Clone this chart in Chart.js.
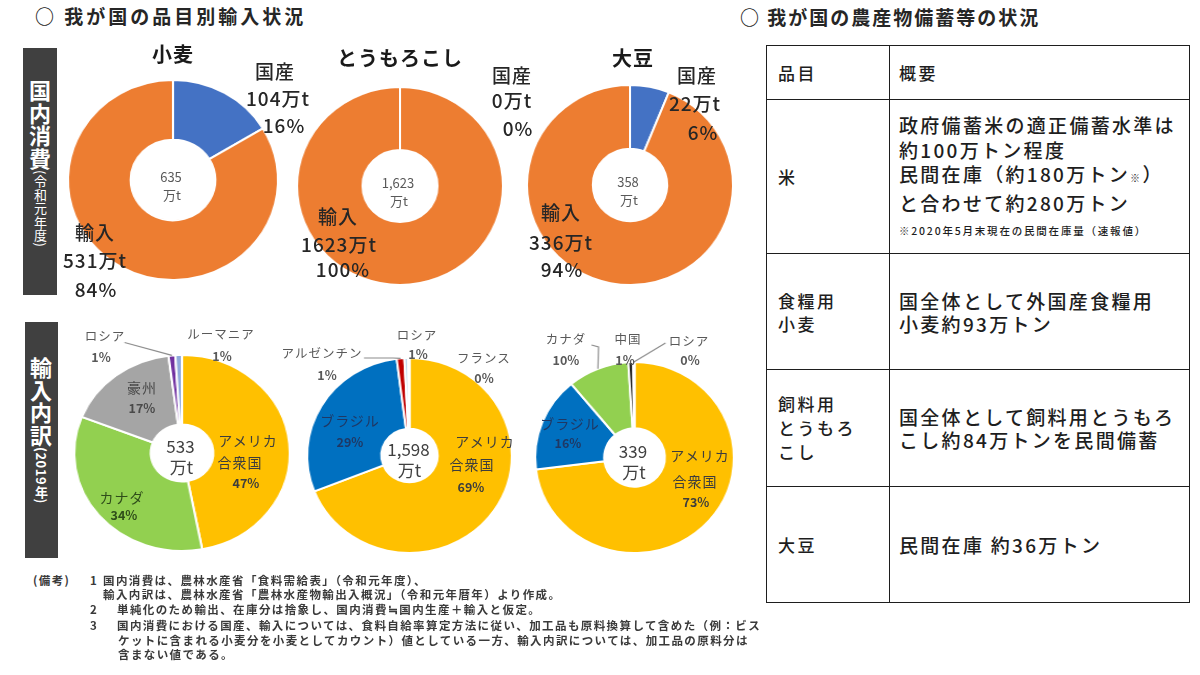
<!DOCTYPE html>
<html><head><meta charset="utf-8">
<script src="https://cdn.jsdelivr.net/npm/chart.js@4.4.0/dist/chart.umd.min.js"></script>
<style>
body{margin:0;background:#fff;}
#root{position:relative;width:1200px;height:675px;overflow:hidden;font-family:"Noto Sans CJK JP","Noto Sans",sans-serif;color:#262626;}
.t{position:absolute;white-space:nowrap;transform:translate(-50%,-50%);line-height:1;}
.l{position:absolute;white-space:nowrap;line-height:1;transform:translateY(-50%);}
canvas{position:absolute;}
.vbox{position:absolute;background:#404040;color:#fff;writing-mode:vertical-rl;box-sizing:border-box;}
#tbl{position:absolute;left:766px;top:45px;border-collapse:collapse;table-layout:fixed;width:423px;}
#tbl td{border:1.5px solid #1e1e1e;vertical-align:middle;padding:0;color:#1e1e1e;font-weight:500;}
#tbl td.c1{font-size:17px;letter-spacing:2.5px;padding-left:11px;line-height:23px;}
#tbl td.c2{font-size:19px;letter-spacing:2.3px;padding-left:9px;line-height:23px;}
.note{font-size:11.5px;font-weight:bold;color:#3a3a3a;letter-spacing:1.4px;}
</style></head><body><div id="root"></div>
<script>
// ---------- data ----------
const topCrops = ['小麦', 'とうもろこし', '大豆'];
const domestic = [104, 0, 22];          // 国産 (万t)
const imported = [531, 1623, 336];      // 輸入 (万t)
const wheatCountries = ['アメリカ\n合衆国', 'カナダ', '豪州', 'ロシア', 'ルーマニア'];
const wheatShares = [47, 34, 17, 1, 1];
const cornCountries = ['アメリカ\n合衆国', 'ブラジル', 'アルゼンチン', 'ロシア', 'フランス'];
const cornShares = [69, 29, 1.2, 0.6, 0.2];
const soyCountries = ['アメリカ\n合衆国', 'ブラジル', 'カナダ', '中国', 'ロシア'];
const soyShares = [73, 16, 10, 0.8, 0.2];
const importTotals = [533, 1598, 339]; // 万t

const root = document.getElementById('root');
function txt(s, x, y, style, cls) {
  const d = document.createElement('div');
  d.className = cls || 't';
  d.textContent = s;
  d.style.left = x + 'px'; d.style.top = y + 'px';
  if (style) d.style.cssText += style;
  root.appendChild(d);
  return d;
}

// leader line plugin
const leaderPlugin = {
  id: 'leaders',
  afterDatasetsDraw(chart, args, opts) {
    if (!opts || !opts.lines) return;
    const ctx = chart.ctx, meta = chart.getDatasetMeta(0);
    const g = opts.geom;
    const toC = (p) => [(p[0] - g.left - g.w / 2) / g.sx + g.w / 2, p[1] - g.top];
    ctx.save();
    ctx.strokeStyle = '#8c8c8c'; ctx.lineWidth = 1.2;
    opts.lines.forEach(L => {
      const a = meta.data[L.i];
      const p = a.getProps(['x', 'y', 'startAngle', 'endAngle', 'outerRadius'], true);
      const m = (p.startAngle + p.endAngle) / 2;
      ctx.beginPath();
      ctx.moveTo(p.x + Math.cos(m) * p.outerRadius, p.y + Math.sin(m) * p.outerRadius);
      L.pts.forEach(q => { const c = toC(q); ctx.lineTo(c[0], c[1]); });
      ctx.stroke();
    });
    ctx.restore();
  }
};

function donut(cx, cy, R, rIn, sx, values, colors, lines) {
  const c = document.createElement('canvas');
  const w = 2 * R + 40, h = 2 * R + 40;
  c.width = w; c.height = h;
  const left = cx - w / 2, top = cy - h / 2;
  c.style.left = left + 'px'; c.style.top = top + 'px';
  c.style.transform = 'scaleX(' + sx + ')';
  root.appendChild(c);
  new Chart(c, {
    type: 'doughnut',
    data: { labels: values.map((v, i) => i), datasets: [{ data: values, backgroundColor: colors, borderColor: '#ffffff', borderWidth: 2 }] },
    options: {
      responsive: false, animation: false, radius: R, cutout: rIn,
      layout: { padding: 0 },
      plugins: { legend: { display: false }, tooltip: { enabled: false },
        leaders: { lines: lines || [], geom: { left, top, w, sx } } }
    },
    plugins: [leaderPlugin]
  });
}

// ---------- headers ----------
txt('○ 我が国の品目別輸入状況', 35, 15, 'font-size:19px;font-weight:bold;letter-spacing:3px;color:#262626;', 'l');
txt('○ 我が国の農産物備蓄等の状況', 740, 16, 'font-size:19px;font-weight:bold;letter-spacing:2px;color:#262626;', 'l');

// vertical boxes
const vb1 = document.createElement('div');
vb1.className = 'vbox';
vb1.style.cssText += 'left:23px;top:48px;width:34px;height:247px;padding-top:32px;line-height:34px;';
vb1.innerHTML = '<span style="font-size:22px;font-weight:bold;letter-spacing:0.5px">国内消費</span><span style="font-size:13px;letter-spacing:0.5px">(令和元年度)</span>';
root.appendChild(vb1);
const vb2 = document.createElement('div');
vb2.className = 'vbox';
vb2.style.cssText += 'left:25px;top:322px;width:33px;height:236px;padding-top:35px;line-height:33px;';
vb2.innerHTML = '<span style="font-size:22px;font-weight:bold;letter-spacing:0.5px">輸入内訳</span><span style="font-size:13px;font-weight:bold;letter-spacing:0.5px">(2019年)</span>';
root.appendChild(vb2);

// ---------- top donuts ----------
const ORANGE = '#ED7D31', BLUE = '#4472C4';
const topGeom = [[173, 180, 100, 48, 1.05], [400, 186, 99, 43, 1.04], [630, 185, 100, 43, 1.03]];
const titlePos = [[173, 54], [400, 58], [633, 58]];
const domPos = [[[275, 70], [278, 97], [284, 124]], [[512, 74], [512, 99], [518, 127]], [[697, 74], [695, 102], [703, 131]]];
const impPos = [[[95, 231], [95, 259], [96, 288]], [[338, 215], [339, 243], [343, 268]], [[561, 211], [561, 241], [562, 268]]];
const lblStyle = 'font-size:19px;letter-spacing:1px;color:#262626;font-weight:500;';
topCrops.forEach((name, k) => {
  const g = topGeom[k];
  donut(g[0], g[1], g[2], g[3], g[4], [domestic[k], imported[k]], [BLUE, ORANGE]);
  const total = domestic[k] + imported[k];
  txt(name, titlePos[k][0], titlePos[k][1], 'font-size:20px;font-weight:bold;letter-spacing:1px;color:#1a1a1a;');
  txt(total.toLocaleString('en-US'), g[0] - 2, g[1] - 4, 'font-size:13px;color:#595959;');
  txt('万t', g[0] - 1, g[1] + 14, 'font-size:13px;color:#595959;');
  const dp = domPos[k], ip = impPos[k];
  txt('国産', dp[0][0], dp[0][1], lblStyle);
  txt(domestic[k] + '万t', dp[1][0], dp[1][1], lblStyle);
  txt(Math.round(domestic[k] / total * 100) + '%', dp[2][0], dp[2][1], lblStyle);
  txt('輸入', ip[0][0], ip[0][1], lblStyle);
  txt(imported[k] + '万t', ip[1][0], ip[1][1], lblStyle);
  txt(Math.round(imported[k] / total * 100) + '%', ip[2][0], ip[2][1], lblStyle);
});

// ---------- bottom donuts ----------
const GOLD = '#FFC000';
const bottom = [
  { geom: [181.5, 452.5, 98, 34, 1.1], names: wheatCountries, shares: wheatShares,
    colors: [GOLD, '#92D050', '#A5A5A5', '#7030A0', '#8FAADC'],
    pos: [[[248, 440], [240, 462], [246, 483]], [[122, 497], [124, 515]], [[142, 387], [142, 408]], [[105, 336], [101, 357]], [[221, 334], [222, 356]]],
    tcol: ['#3d3d3d', '#2f4d1a', '#4a4a4a', '#595959', '#595959'],
    outer: [false, false, false, true, true],
    lines: [{ i: 3, pts: [[124, 342]] }] },
  { geom: [409.5, 455.5, 97.5, 32, 1.05], names: cornCountries, shares: cornShares,
    colors: [GOLD, '#0070C0', '#C00000', '#BDD7EE', '#E7E6E6'],
    pos: [[[485, 441], [472, 464], [471, 487]], [[350, 420], [350, 442]], [[322, 353], [327, 375]], [[417, 335], [418, 354]], [[484, 358], [484, 378]]],
    tcol: ['#3d3d3d', '#1f3864', '#595959', '#595959', '#595959'],
    outer: [false, false, true, true, true],
    lines: [{ i: 2, pts: [[393, 358], [364, 358]] }] },
  { geom: [634, 457.5, 95.5, 35, 1.04], names: soyCountries, shares: soyShares,
    colors: [GOLD, '#0070C0', '#92D050', '#262626', '#7F7F7F'],
    pos: [[[700, 455], [695, 481], [696, 502]], [[570, 423], [568, 443]], [[566, 339], [566, 360]], [[628, 339], [625, 360]], [[689, 341], [690, 360]]],
    tcol: ['#3d3d3d', '#1f3864', '#595959', '#595959', '#595959'],
    outer: [false, false, true, true, true],
    lines: [{ i: 2, pts: [[598, 347], [591, 345]] }, { i: 4, pts: [[665, 343]] }] }
];
bottom.forEach((b, k) => {
  const g = b.geom;
  donut(g[0], g[1], g[2], g[3], g[4], b.shares, b.colors, b.lines);
  txt(importTotals[k].toLocaleString('en-US'), g[0] - 1, g[1] - 8, 'font-size:17px;color:#404040;');
  txt('万t', g[0], g[1] + 13, 'font-size:17px;color:#404040;');
  b.names.forEach((nm, i) => {
    const parts = nm.split('\n');
    const P = b.pos[i];
    const fs = b.outer[i] ? 12.5 : 14;
    parts.forEach((s, j) => txt(s, P[j][0], P[j][1], 'font-size:' + fs + 'px;letter-spacing:1px;color:' + b.tcol[i] + ';'));
    const pp = P[parts.length];
    txt(Math.round(b.shares[i]) + '%', pp[0], pp[1], 'font-size:12.5px;font-weight:bold;color:' + b.tcol[i] + ';');
  });
});

// ---------- notes ----------
const notes = [
  ['(備考)', 33, 581], ['1', 90, 581], ['国内消費は、農林水産省「食料需給表」（令和元年度）、', 103, 581],
  ['輸入内訳は、農林水産省「農林水産物輸出入概況」（令和元年暦年）より作成。', 103, 595],
  ['2', 90, 610], ['単純化のため輸出、在庫分は捨象し、国内消費≒国内生産＋輸入と仮定。', 117, 610],
  ['3', 90, 626], ['国内消費における国産、輸入については、食料自給率算定方法に従い、加工品も原料換算して含めた（例：ビス', 117, 626],
  ['ケットに含まれる小麦分を小麦としてカウント）値としている一方、輸入内訳については、加工品の原料分は', 118, 641],
  ['含まない値である。', 118, 655]
];
notes.forEach(n => txt(n[0], n[1], n[2], '', 'l note'));

// ---------- table ----------
const tbl = document.createElement('table');
tbl.id = 'tbl';
tbl.innerHTML =
  '<colgroup><col style="width:123px"><col style="width:300px"></colgroup>' +
  '<tr style="height:54px"><td class="c1">品目</td><td class="c1" style="padding-left:9px">概要</td></tr>' +
  '<tr style="height:154px"><td class="c1">米</td><td class="c2" style="line-height:24.5px">政府備蓄米の適正備蓄水準は<br>約100万トン程度<br>民間在庫（約180万トン<span style="font-size:10px">※</span>）<br>と合わせて約280万トン<br><span style="font-size:10.5px;letter-spacing:1.8px;line-height:16px;display:inline-block;">※2020年5月末現在の民間在庫量（速報値）</span></td></tr>' +
  '<tr style="height:116px"><td class="c1">食糧用<br>小麦</td><td class="c2">国全体として外国産食糧用<br>小麦約93万トン</td></tr>' +
  '<tr style="height:117px"><td class="c1" style="line-height:24px">飼料用<br>とうもろ<br>こし</td><td class="c2">国全体として飼料用とうもろ<br>こし約84万トンを民間備蓄</td></tr>' +
  '<tr style="height:116px"><td class="c1">大豆</td><td class="c2">民間在庫 約36万トン</td></tr>';
root.appendChild(tbl);
</script></body></html>
